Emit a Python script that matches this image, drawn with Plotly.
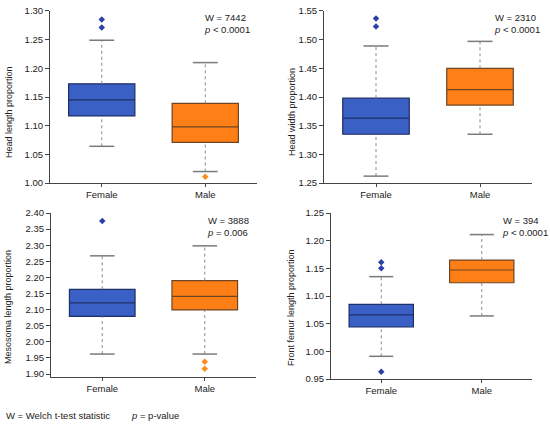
import plotly.graph_objects as go

# box stats: [lower whisker, q1, median, q3, upper whisker]
groups = ["Female", "Male"]

head_len_f = [1.064, 1.117, 1.145, 1.173, 1.249]
head_len_m = [1.020, 1.071, 1.098, 1.139, 1.210]
head_len_out_f = [1.285, 1.271]
head_len_out_m = [1.011]

head_wid_f = [1.262, 1.335, 1.363, 1.398, 1.489]
head_wid_m = [1.335, 1.386, 1.413, 1.450, 1.497]
head_wid_out_f = [1.537, 1.523]
head_wid_out_m = []

meso_f = [1.962, 2.079, 2.121, 2.163, 2.267]
meso_m = [1.962, 2.099, 2.141, 2.190, 2.298]
meso_out_f = [2.375]
meso_out_m = [1.938, 1.916]

femur_f = [0.991, 1.044, 1.066, 1.085, 1.135]
femur_m = [1.064, 1.124, 1.147, 1.165, 1.211]
femur_out_f = [1.161, 1.150, 0.963]
femur_out_m = []

stat_w = ["7442", "2310", "3888", "394"]
stat_p = ["< 0.0001", "< 0.0001", "= 0.006", "< 0.0001"]
y_titles = ["Head length proportion", "Head width proportion",
            "Mesosoma length proportion", "Front femur length proportion"]

fill_cols = ["#3a60c6", "#ff7f17"]
edge_cols = ["#1e2f66", "#6e4524"]
out_cols = ["#2a40a6", "#ff8a1e"]

panels = [
    dict(f=head_len_f, m=head_len_m, of=head_len_out_f, om=head_len_out_m,
         xd=[0.0909, 0.4673], yd=[0.5704, 0.9742], rng=[1.0, 1.30], dt=0.05,
         ann=(202 / 550, 1 - 10 / 426), tt=(9 / 550, 1 - 112 / 426)),
    dict(f=head_wid_f, m=head_wid_m, of=head_wid_out_f, om=head_wid_out_m,
         xd=[0.5891, 0.9673], yd=[0.5704, 0.9742], rng=[1.25, 1.55], dt=0.05,
         ann=(492 / 550, 1 - 10 / 426), tt=(292 / 550, 1 - 112 / 426)),
    dict(f=meso_f, m=meso_m, of=meso_out_f, om=meso_out_m,
         xd=[0.0927, 0.4655], yd=[0.1150, 0.5], rng=[1.8907, 2.40], dt=0.05,
         ann=(205 / 550, 1 - 213 / 426), tt=(8 / 550, 1 - 307 / 426)),
    dict(f=femur_f, m=femur_m, of=femur_out_f, om=femur_out_m,
         xd=[0.6018, 0.9673], yd=[0.1103, 0.5], rng=[0.95, 1.25], dt=0.05,
         ann=(500 / 550, 1 - 213 / 426), tt=(291 / 550, 1 - 308 / 426)),
]

fig = go.Figure()
annots = []
cap = 0.12

for i, p in enumerate(panels):
    n = "" if i == 0 else str(i + 1)
    xa, ya = "x" + n, "y" + n
    for g, (st, outs) in enumerate([(p["f"], p["of"]), (p["m"], p["om"])]):
        # whiskers (dotted) + caps
        fig.add_trace(go.Scatter(
            x=[g, g, None, g, g], y=[st[0], st[1], None, st[3], st[4]],
            mode="lines", line=dict(color="#8a8a8a", width=1, dash="dot"),
            xaxis=xa, yaxis=ya, showlegend=False, hoverinfo="skip"))
        fig.add_trace(go.Scatter(
            x=[g - cap, g + cap, None, g - cap, g + cap],
            y=[st[0], st[0], None, st[4], st[4]],
            mode="lines", line=dict(color="#7a7a7a", width=1.5),
            xaxis=xa, yaxis=ya, showlegend=False, hoverinfo="skip"))
        fig.add_trace(go.Box(
            x=[g], q1=[st[1]], median=[st[2]], q3=[st[3]],
            lowerfence=[st[1]], upperfence=[st[3]], width=0.64,
            fillcolor=fill_cols[g], line=dict(color=edge_cols[g], width=1.2),
            boxpoints=False, xaxis=xa, yaxis=ya, showlegend=False))
        if outs:
            fig.add_trace(go.Scatter(
                x=[g] * len(outs), y=outs, mode="markers",
                marker=dict(symbol="diamond", size=5, color=out_cols[g]),
                xaxis=xa, yaxis=ya, showlegend=False))

    ax = dict(domain=p["xd"], range=[-0.5, 1.5], tickvals=[0, 1], ticktext=groups,
              showline=True, linecolor="#444", linewidth=1, ticks="outside",
              ticklen=3, tickcolor="#444", showgrid=False, zeroline=False,
              anchor=ya, automargin=False, tickfont=dict(size=9.5, color="#222"))
    ay = dict(domain=p["yd"], range=p["rng"], dtick=p["dt"], tick0=0,
              tickformat=".2f", showline=True, linecolor="#444", linewidth=1,
              ticks="outside", ticklen=4, tickcolor="#444", showgrid=False,
              zeroline=False, anchor=xa, automargin=False,
              tickfont=dict(size=9.5, color="#222"))
    fig.update_layout(**{"xaxis" + n: ax, "yaxis" + n: ay})

    annots.append(dict(x=p["ann"][0], y=p["ann"][1], xref="paper", yref="paper",
                       xanchor="left", yanchor="top", align="left", showarrow=False,
                       text="W = " + stat_w[i] + "<br><i>p</i> " + stat_p[i],
                       font=dict(size=9.5, color="#222")))
    annots.append(dict(x=p["tt"][0], y=p["tt"][1], xref="paper", yref="paper",
                       xanchor="center", yanchor="middle", textangle=-90,
                       showarrow=False, text=y_titles[i],
                       font=dict(size=9, color="#222")))

annots.append(dict(x=4 / 550, y=1 - 415 / 426, xref="paper", yref="paper",
                   xanchor="left", yanchor="middle", showarrow=False,
                   text="W = Welch t-test statistic", font=dict(size=9.5, color="#222")))
annots.append(dict(x=129 / 550, y=1 - 415 / 426, xref="paper", yref="paper",
                   xanchor="left", yanchor="middle", showarrow=False,
                   text="<i>p</i> = p-value", font=dict(size=9.5, color="#222")))

fig.update_layout(
    width=550, height=426, template="none",
    margin=dict(l=0, r=0, t=0, b=0),
    paper_bgcolor="white", plot_bgcolor="white",
    font=dict(family="Liberation Sans, Arial, sans-serif"),
    annotations=annots, showlegend=False)

# drop the browser's default body margin so the figure sits at the page corner
fig.write_html("out.html", config={"displayModeBar": False},
               post_script="document.body.style.margin='0';")
